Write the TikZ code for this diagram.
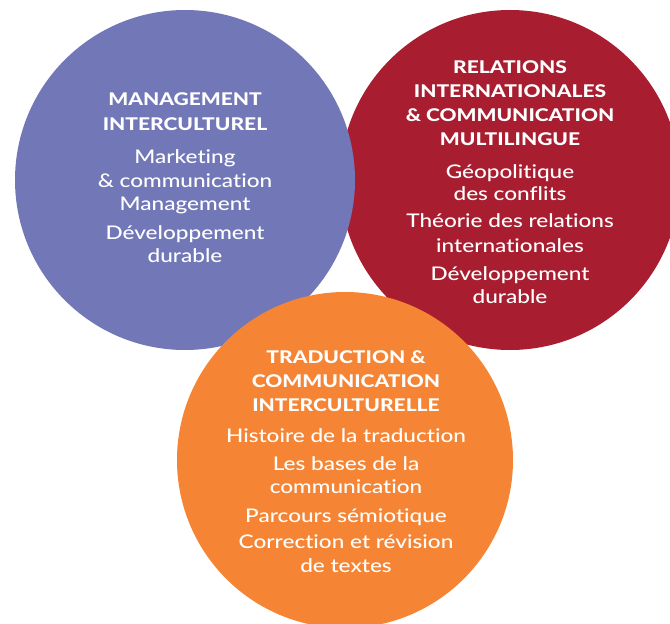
\documentclass[tikz,border=0pt]{standalone}
\usepackage{fontspec}
\setmainfont{Lato Medium}[FakeStretch=1.2,Ligatures=NoCommon,BoldFont={Lato Heavy},BoldFeatures={FakeStretch=1.2}]
\definecolor{cpurple}{HTML}{7277B8}
\definecolor{cred}{HTML}{A81E30}
\definecolor{corange}{HTML}{F58534}
\begin{document}
\begin{tikzpicture}[x=1pt,y=-1pt,
  head/.style={text=white,anchor=base,inner sep=0pt,font=\fontsize{17.5}{20}\selectfont\bfseries},
  body/.style={text=white,anchor=base,inner sep=0pt,font=\fontsize{18.8}{22}\selectfont},
  disc/.style={circle,draw=none,inner sep=0pt}]
\useasboundingbox (0,0) rectangle (670,624);
\begin{scope}
\clip (0,0) rectangle (670,624);
\node[disc,fill=cred,minimum size=340pt] (cr) at (510,180) {};
\node[disc,fill=cpurple,minimum size=340pt] (cp) at (185,180) {};
\node[disc,fill=corange,minimum size=336pt] (co) at (345,460) {};
\end{scope}
% purple
\node[head] (p1) at (185,105) {MANAGEMENT};
\node[head] (p2) at (185,130) {INTERCULTUREL};
\node[body] (p3) at (185,163) {Marketing};
\node[body] (p4) at (185,187) {\& communication};
\node[body] (p5) at (185,210) {Management};
\node[body] (p6) at (185,239) {Développement};
\node[body] (p7) at (185,262) {durable};
% red
\node[head] (r1) at (510,73) {RELATIONS};
\node[head] (r2) at (510,97) {INTERNATIONALES};
\node[head] (r3) at (510,121) {\& COMMUNICATION};
\node[head] (r4) at (510,145) {MULTILINGUE};
\node[body] (r5) at (510,178) {Géopolitique};
\node[body] (r6) at (510,200) {des conflits};
\node[body] (r7) at (510,227) {Théorie des relations};
\node[body] (r8) at (510,252) {internationales};
\node[body] (r9) at (510,280) {Développement};
\node[body] (r10) at (510,303) {durable};
% orange
\node[head] (o1) at (346,363) {TRADUCTION \&};
\node[head] (o2) at (346,387) {COMMUNICATION};
\node[head] (o3) at (346,411) {INTERCULTURELLE};
\node[body] (o4) at (346,442) {Histoire de la traduction};
\node[body] (o5) at (346,470) {Les bases de la};
\node[body] (o6) at (346,493) {communication};
\node[body] (o7) at (346,522) {Parcours sémiotique};
\node[body] (o8) at (346,548) {Correction et révision};
\node[body] (o9) at (346,572) {de textes};
\end{tikzpicture}
\end{document}
